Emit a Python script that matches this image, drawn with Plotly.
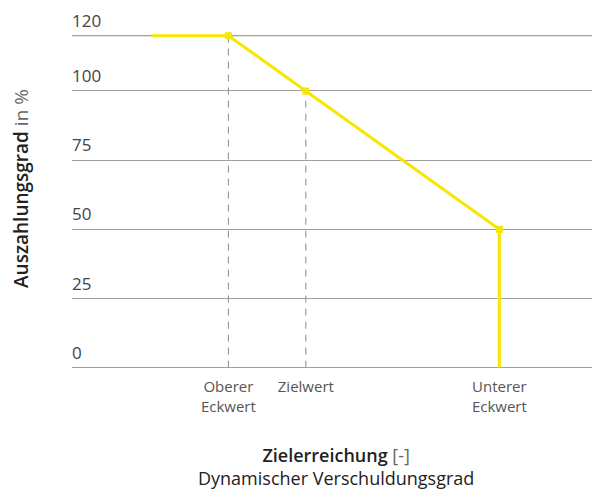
import plotly.graph_objects as go

# data
x_pos = [1, 2, 3, 5.5, 5.5]
payout = [120, 120, 100, 50, 0]
marker_x = [2, 3, 5.5]
marker_y = [120, 100, 50]
tick_vals = [2, 3, 5.5]
tick_text = ["Oberer<br>Eckwert", "Zielwert", "Unterer<br>Eckwert"]
y_ticks = [0, 25, 50, 75, 100, 120]
guide_x = [2, 3]
guide_top = [120, 100]

yellow = "#f7e600"
font_family = "Open Sans"

fig = go.Figure()

# dashed guide lines
for gx, gy in zip(guide_x, guide_top):
    fig.add_trace(go.Scatter(
        x=[gx, gx], y=[0, gy], mode="lines",
        line=dict(color="#8a8a8a", width=1, dash="7px,6px"),
        hoverinfo="skip", showlegend=False))

fig.add_trace(go.Scatter(
    x=x_pos, y=payout, mode="lines",
    line=dict(color=yellow, width=3),
    showlegend=False))

fig.add_trace(go.Scatter(
    x=marker_x, y=marker_y, mode="markers",
    marker=dict(color=yellow, size=7, symbol="square"),
    showlegend=False))

# darker top line
fig.add_shape(type="line", xref="paper", x0=0, x1=1, yref="y", y0=120, y1=120,
              line=dict(color="#555555", width=1), layer="below")

# x axis title as an annotation so it can sit lower
fig.add_annotation(
    text="<span style='font-weight:600'>Zielerreichung</span> <span style='color:#666'>[-]</span><br>Dynamischer Verschuldungsgrad",
    xref="paper", yref="paper", x=0.5, y=0, xanchor="center", yanchor="top",
    yshift=-72, showarrow=False,
    font=dict(size=18, color="#222222"))

# page has an 8px body margin, so the figure is shifted by 8px
fig.update_layout(
    width=592, height=485,
    margin=dict(l=64, r=0, t=0, b=124, autoexpand=False),
    plot_bgcolor="white", paper_bgcolor="white",
    font=dict(family=font_family, size=15, color="#444444"),
    xaxis=dict(
        range=[-0.02, 6.8], automargin=True,
        tickvals=tick_vals, ticktext=tick_text,
        showgrid=False, zeroline=False, showline=False,
        ticks="", tickfont=dict(size=15, color="#555555"),
        ticklabelstandoff=7,
    ),
    yaxis=dict(
        range=[-0.5, 130], automargin=True,
        tickvals=y_ticks,
        ticklabelposition="inside top",
        ticklabelstandoff=-3,
        ticklabelshift=-3,
        tickfont=dict(size=17, color="#444444"),
        showgrid=True, gridcolor="#a0a0a0", gridwidth=1,
        zeroline=False, showline=False, ticks="",
        title=dict(
            text="<span style='font-weight:600'>Auszahlungsgrad</span> <span style='color:#666'>in %</span>",
            font=dict(size=19, color="#222222"), standoff=44),
    ),
)

fig.write_html("out.html")
